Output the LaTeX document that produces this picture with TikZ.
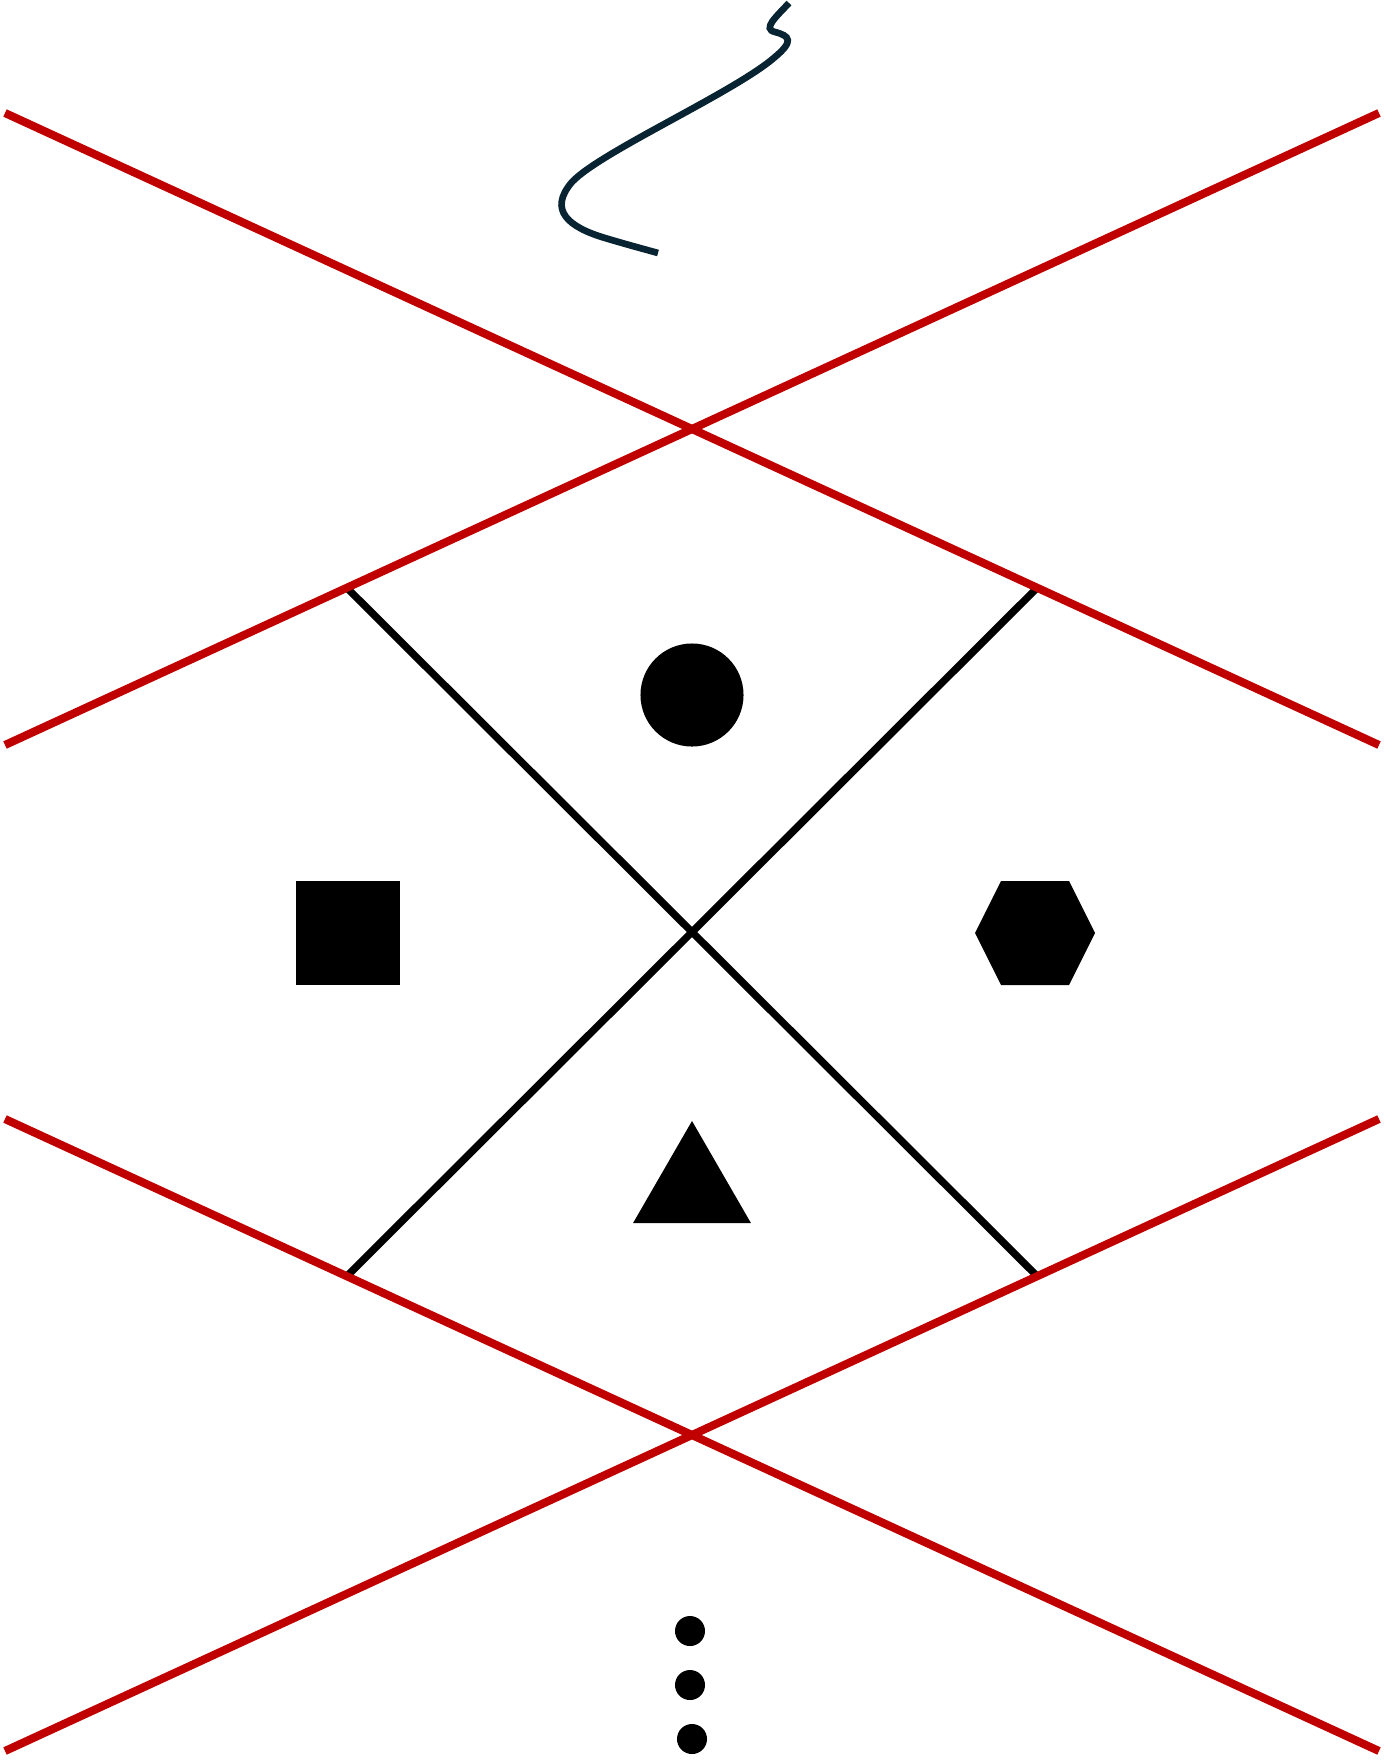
\documentclass[tikz,border=0pt]{standalone}
\usetikzlibrary{shapes.geometric}
\definecolor{redline}{RGB}{192,0,0}
\definecolor{navy}{RGB}{8,36,51}
\tikzset{
  redl/.style={draw=redline,line width=2.3pt},
  blackl/.style={draw=black,line width=2.1pt},
  squiggle/.style={draw=navy,line width=1.9pt},
  shp/.style={fill=black,draw=none,inner sep=0pt,outer sep=0pt},
}
\begin{document}
\begin{tikzpicture}[x=0.01cm,y=-0.01cm]
\useasboundingbox (0,0) rectangle (1384,1760);
% coordinates
\coordinate (u1) at (5,113);
\coordinate (u2) at (1379,745);
\coordinate (u3) at (5,745);
\coordinate (u4) at (1379,113);
\coordinate (l1) at (5,1119);
\coordinate (l2) at (1379,1751);
\coordinate (l3) at (5,1751);
\coordinate (l4) at (1379,1119);
\coordinate (b1) at (347,588);
\coordinate (b2) at (1037,1276);
\coordinate (b3) at (347,1276);
\coordinate (b4) at (1037,588);
% shapes
\node[shp,circle,minimum size=1.03cm] (circ) at (692,695) {};
\node[shp,rectangle,minimum size=1.03cm] (sq) at (348,933) {};
\coordinate (hex) at (1035,933);
\fill[black] ([shift={(-60,0)}]hex) -- ([shift={(-34,-52)}]hex) -- ([shift={(34,-52)}]hex)
  -- ([shift={(60,0)}]hex) -- ([shift={(34,52)}]hex) -- ([shift={(-34,52)}]hex) -- cycle;
\node[shp,regular polygon,regular polygon sides=3,minimum size=1.36cm] (tri) at (692,1189) {};
\node[shp,circle,minimum size=0.3cm] (d1) at (690,1631) {};
\node[shp,circle,minimum size=0.3cm] (d2) at (690,1685) {};
\node[shp,circle,minimum size=0.3cm] (d3) at (692,1739) {};
% black X
\draw[blackl] (b1) -- (b2);
\draw[blackl] (b3) -- (b4);
% red lines
\draw[redl] (u1) -- (u2);
\draw[redl] (u3) -- (u4);
\draw[redl] (l1) -- (l2);
\draw[redl] (l3) -- (l4);
% squiggle
\coordinate (s0) at (789,3);
\coordinate (s1) at (775,32);
\coordinate (s2) at (775,57);
\coordinate (s3) at (572,182);
\coordinate (s4) at (605,238);
\coordinate (s5) at (658,253);
\draw[squiggle] (s0) .. controls (776,17) and (762,29) .. (s1)
  .. controls (790,36) and (794,41) .. (s2)
  .. controls (735,92) and (600,152) .. (s3)
  .. controls (548,210) and (568,227) .. (s4)
  .. controls (625,244) and (640,248) .. (s5);
\end{tikzpicture}
\end{document}
